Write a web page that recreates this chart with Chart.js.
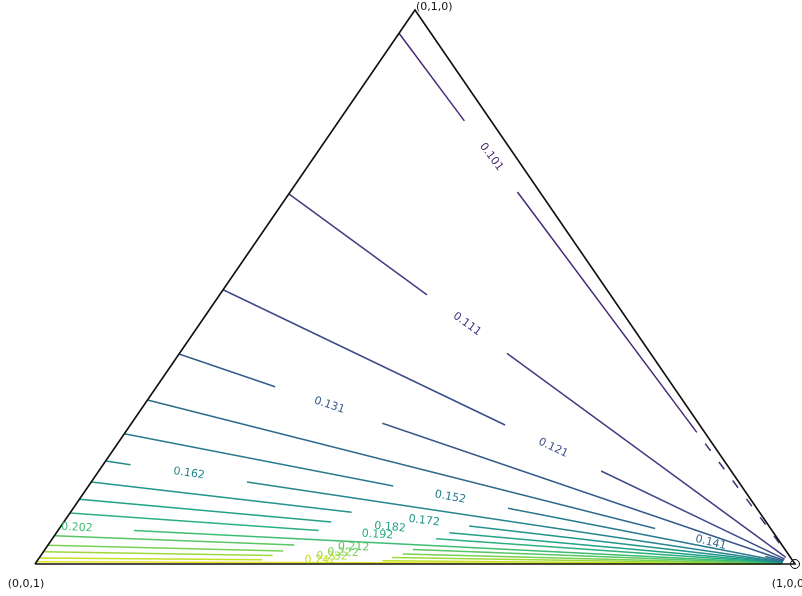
<!DOCTYPE html>
<html>
<head>
<meta charset="utf-8">
<script src="https://cdn.jsdelivr.net/npm/chart.js@4"></script>
<style>
  html, body { margin: 0; padding: 0; background: #fff; }
  #wrap { width: 802px; height: 596px; }
</style>
</head>
<body>
<div id="wrap"><canvas id="myChart" width="802" height="596"></canvas></div>
<script>
// ternary corners: (1,0,0) bottom right, (0,1,0) top, (0,0,1) bottom left
const cornerNames = ["(1,0,0)", "(0,1,0)", "(0,0,1)"];

// contour levels, each one runs from the (1,0,0) corner to the left edge
const levels = [0.101, 0.111, 0.121, 0.131, 0.141, 0.152, 0.162, 0.172, 0.182, 0.192, 0.202, 0.212, 0.222, 0.232, 0.242, 0.252];
// second component where each level meets the left edge
const edgeB = [0.958, 0.668, 0.495, 0.379, 0.296, 0.235, 0.186, 0.148, 0.117, 0.092, 0.067, 0.051, 0.034, 0.022, 0.011, 0.004];
// where the inline label sits along each line (0 = left edge, 1 = corner), and the gap around it
const labelAt = [0.233, 0.352, 0.577, 0.244, 0.870, 0.486, 0.121, 0.473, 0.434, 0.424, 0.0225, 0.404, 0.395, 0.384, 0.372, null];
const gapFrom = [0.165, 0.273, 0.493, 0.156, 0.784, 0.401, 0.036, 0.370, 0.352, 0.343, 0.0, 0.324, 0.315, 0.305, 0.295, null];
const gapTo = [0.299, 0.431, 0.661, 0.330, 0.954, 0.572, 0.205, 0.537, 0.517, 0.505, 0.100, 0.484, 0.475, 0.464, 0.454, null];
// the top level breaks up near the right edge
const brokenFrom = [0.752, null, null, null, null, null, null, null, null, null, null, null, null, null, null, null];
const lineEnd = 0.982;

const viridis = ["#440154", "#482475", "#414487", "#355f8d", "#2a788e", "#21918c", "#22a884", "#44bf70", "#7ad151", "#bddf26", "#fde725"];

function hexRgb(h) {
  return [parseInt(h.slice(1, 3), 16), parseInt(h.slice(3, 5), 16), parseInt(h.slice(5, 7), 16)];
}
function levelColor(v) {
  let n = (v - 0.08) / 0.178;
  n = Math.max(0, Math.min(1, n)) * (viridis.length - 1);
  const i = Math.min(Math.floor(n), viridis.length - 2);
  const f = n - i;
  const a = hexRgb(viridis[i]), b = hexRgb(viridis[i + 1]);
  const c = a.map((v0, k) => Math.round(v0 + (b[k] - v0) * f));
  return `rgb(${c[0]},${c[1]},${c[2]})`;
}

// ternary (a,b,c) -> plane
function tern(a, b) {
  return { x: a + b / 2, y: b * Math.sqrt(3) / 2 };
}
// point at fraction s along the line from the left edge point (0,t,1-t) to (1,0,0)
function along(s, t) {
  return tern(s, t * (1 - s));
}

const datasets = [];
datasets.push({
  data: [tern(0, 0), tern(1, 0), tern(0, 1), tern(0, 0)],
  borderColor: "#111",
  borderWidth: 1.6,
});

levels.forEach((lv, i) => {
  const col = levelColor(lv);
  const t = edgeB[i];
  const stop = brokenFrom[i] != null ? brokenFrom[i] : lineEnd;
  const parts = labelAt[i] == null ? [[0, stop]] : [[0, gapFrom[i]], [gapTo[i], stop]];
  parts.forEach(([s0, s1]) => {
    if (s1 - s0 <= 0.001) return;
    datasets.push({ data: [along(s0, t), along(s1, t)], borderColor: col, borderWidth: 1.5 });
  });
  if (brokenFrom[i] != null) {
    datasets.push({
      data: [along(brokenFrom[i], t), along(0.975, t)],
      borderColor: col,
      borderWidth: 1.5,
      borderDash: [9, 14],
      borderDashOffset: -14,
    });
  }
});

// little marker on the (1,0,0) corner
datasets.push({
  data: [tern(1, 0)],
  showLine: false,
  pointRadius: 4.5,
  pointBorderColor: "#000",
  pointBorderWidth: 1,
  pointBackgroundColor: "rgba(0,0,0,0)",
});

const labelPlugin = {
  id: "contourLabels",
  afterDatasetsDraw(chart) {
    const { ctx, scales } = chart;
    const px = (p) => [scales.x.getPixelForValue(p.x), scales.y.getPixelForValue(p.y)];
    ctx.save();
    ctx.font = '11px "DejaVu Sans"';
    ctx.textAlign = "center";
    ctx.textBaseline = "middle";
    levels.forEach((lv, i) => {
      if (labelAt[i] == null) return;
      const [x0, y0] = px(along(labelAt[i], edgeB[i]));
      const [x1, y1] = px(along(labelAt[i] + 0.01, edgeB[i]));
      ctx.save();
      ctx.translate(x0, y0);
      ctx.rotate(Math.atan2(y1 - y0, x1 - x0));
      ctx.fillStyle = levelColor(lv);
      ctx.fillText(lv.toFixed(3), 0, 0);
      ctx.restore();
    });
    ctx.fillStyle = "#111";
    const [bx, by] = px(tern(1, 0));
    const [tx, ty] = px(tern(0, 1));
    const [lx, ly] = px(tern(0, 0));
    ctx.textAlign = "left";
    ctx.fillText(cornerNames[1], tx + 1, ty - 3);
    ctx.textAlign = "center";
    ctx.fillText(cornerNames[2], lx - 9, ly + 20);
    ctx.fillText(cornerNames[0], bx - 5, by + 20);
    ctx.restore();
  },
};

new Chart(document.getElementById("myChart").getContext("2d"), {
  type: "scatter",
  data: { datasets: datasets },
  options: {
    responsive: false,
    animation: false,
    showLine: true,
    elements: { point: { radius: 0 } },
    datasets: { scatter: { clip: false, showLine: true } },
    layout: { padding: { left: 35, right: 7, top: 10, bottom: 32 } },
    plugins: { legend: { display: false }, tooltip: { enabled: false } },
    scales: {
      x: { type: "linear", display: false, min: 0, max: 1 },
      y: { type: "linear", display: false, min: 0, max: Math.sqrt(3) / 2 },
    },
  },
  plugins: [labelPlugin],
});
</script>
</body>
</html>
